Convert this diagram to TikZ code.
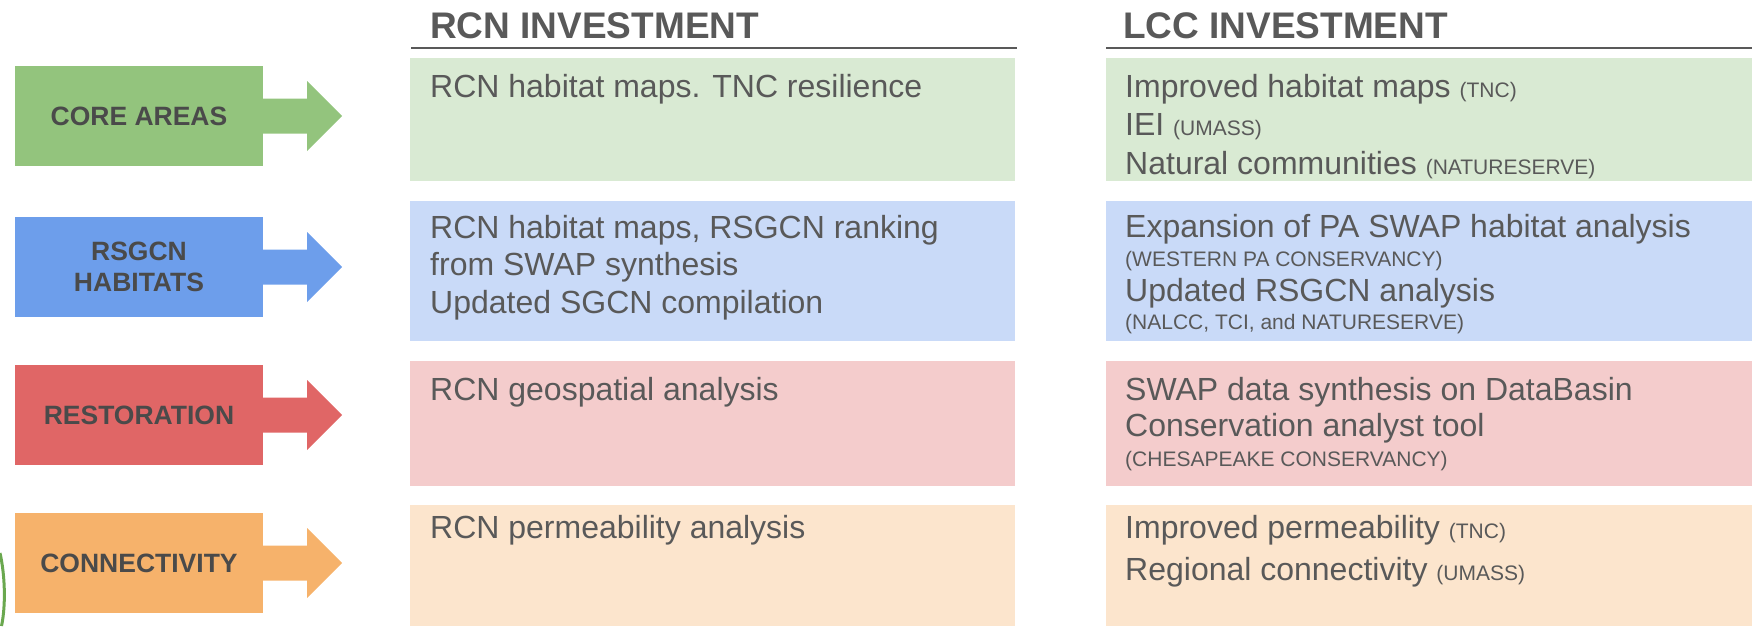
\documentclass[tikz,border=0pt]{standalone}
\usepackage{fontspec}
\setmainfont{Liberation Sans}
\definecolor{cgreen}{HTML}{93C47D}
\definecolor{cblue}{HTML}{6D9EEB}
\definecolor{cred}{HTML}{E06666}
\definecolor{corange}{HTML}{F6B26B}
\definecolor{lgreen}{HTML}{D9EAD3}
\definecolor{lblue}{HTML}{C9DAF8}
\definecolor{lred}{HTML}{F4CCCC}
\definecolor{lorange}{HTML}{FCE5CD}
\definecolor{txtgray}{HTML}{595959}
\definecolor{labgray}{HTML}{4A4A4A}
\definecolor{arcgreen}{HTML}{6AA84F}
\newcommand\bigtxt{\fontsize{32}{36}\selectfont}
\newcommand\smtxt{\fontsize{21}{24}\selectfont}
\begin{document}
\begin{tikzpicture}[x=1pt,y=-1pt,
  lab/.style={minimum width=248pt, minimum height=100pt, inner sep=0pt,
    font=\fontsize{26.5}{31}\selectfont\bfseries, text=labgray, align=center},
  txt/.style={anchor=base west, inner sep=0pt, text=txtgray, font=\bigtxt},
  sm/.style={anchor=base west, inner sep=0pt, text=txtgray, font=\smtxt},
  hdr/.style={anchor=base west, inner sep=0pt, text=txtgray,
    font=\fontsize{37}{40}\selectfont\bfseries},
  hline/.style={draw=txtgray, line width=2.5pt},
  arrowtail/.style={insert path={++(0,-17.5) -- ++(44,0) -- ++(0,-17.5) -- ++(35,35)
    -- ++(-35,35) -- ++(0,-17.5) -- ++(-44,0) -- cycle}},
]
\useasboundingbox (0,0) rectangle (1752,626);

% headers
\node[hdr] (h1) at (430,38) {RCN INVESTMENT};
\node[hdr] (h2) at (1123,38) {LCC INVESTMENT};
\coordinate (l1a) at (411,48); \coordinate (l1b) at (1017,48);
\coordinate (l2a) at (1106,48); \coordinate (l2b) at (1752,48);
\draw[hline] (l1a) -- (l1b);
\draw[hline] (l2a) -- (l2b);

% background boxes
\fill[lgreen]  (410,58)  rectangle (1015,181);
\fill[lblue]   (410,201) rectangle (1015,341);
\fill[lred]    (410,361) rectangle (1015,486);
\fill[lorange] (410,505) rectangle (1015,626);
\fill[lgreen]  (1106,58)  rectangle (1752,181);
\fill[lblue]   (1106,201) rectangle (1752,341);
\fill[lred]    (1106,361) rectangle (1752,486);
\fill[lorange] (1106,505) rectangle (1752,626);

% left labels with arrows
\node[lab, fill=cgreen]  (core) at (139,116) {CORE AREAS};
\node[lab, fill=cblue]   (rsg)  at (139,267) {RSGCN\\HABITATS};
\node[lab, fill=cred]    (rest) at (139,415) {RESTORATION};
\node[lab, fill=corange] (conn) at (139,563) {CONNECTIVITY};
\fill[cgreen]  (core.east) [arrowtail];
\fill[cblue]   (rsg.east)  [arrowtail];
\fill[cred]    (rest.east) [arrowtail];
\fill[corange] (conn.east) [arrowtail];

% green arc at the lower left edge
\coordinate (arcA) at (0,553); \coordinate (arcB) at (1.5,626);
\draw[arcgreen, line width=3pt] (arcA) .. controls (5,575) and (6,605) .. (arcB);

% RCN column
\node[txt] (m1) at (430,97) {RCN habitat maps. TNC resilience};
\node[txt] (m2a) at (430,238) {RCN habitat maps, RSGCN ranking};
\node[txt] (m2b) at (430,275) {from SWAP synthesis};
\node[txt] (m2c) at (430,313) {Updated SGCN compilation};
\node[txt] (m3) at (430,400) {RCN geospatial analysis};
\node[txt] (m4) at (430,538) {RCN permeability analysis};

% LCC column
\node[txt] (r1a) at (1125,97) {Improved habitat maps {\smtxt (TNC)}};
\node[txt] (r1b) at (1125,135) {IEI {\smtxt (UMASS)}};
\node[txt] (r1c) at (1125,174) {Natural communities {\smtxt (NATURESERVE)}};
\node[txt] (r2a) at (1125,237) {Expansion of PA SWAP habitat analysis};
\node[sm]  (r2b) at (1125,266) {(WESTERN PA CONSERVANCY)};
\node[txt] (r2c) at (1125,301) {Updated RSGCN analysis};
\node[sm]  (r2d) at (1125,329) {(NALCC, TCI, and NATURESERVE)};
\node[txt] (r3a) at (1125,400) {SWAP data synthesis on DataBasin};
\node[txt] (r3b) at (1125,436) {Conservation analyst tool};
\node[sm]  (r3c) at (1125,466) {(CHESAPEAKE CONSERVANCY)};
\node[txt] (r4a) at (1125,538) {Improved permeability {\smtxt (TNC)}};
\node[txt] (r4b) at (1125,580) {Regional connectivity {\smtxt (UMASS)}};
\end{tikzpicture}
\end{document}
